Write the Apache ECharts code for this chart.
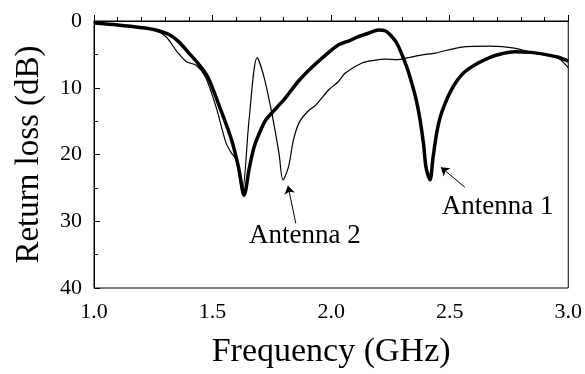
<!DOCTYPE html>
<html>
<head>
<meta charset="utf-8">
<script src="https://cdn.jsdelivr.net/npm/echarts@6/dist/echarts.min.js"></script>
<style>
  html, body { margin: 0; padding: 0; background: #fff; }
  #chart { width: 585px; height: 374px; }
</style>
</head>
<body>
<div id="chart"></div>
<script>
// frequency (GHz) / return loss (dB)
const ant1Freq = [1.0, 1.1, 1.2, 1.26, 1.32, 1.36, 1.40, 1.44, 1.48, 1.53, 1.58, 1.61, 1.633, 1.655, 1.675, 1.70, 1.725, 1.77, 1.81, 1.86, 1.92, 1.98, 2.03, 2.08, 2.115, 2.16, 2.2, 2.23, 2.25, 2.275, 2.296, 2.32, 2.34, 2.36, 2.375, 2.39, 2.40, 2.417, 2.43, 2.445, 2.46, 2.48, 2.50, 2.53, 2.564, 2.62, 2.673, 2.72, 2.773, 2.84, 2.90, 2.954, 3.0];
const ant1Loss = [0.3, 0.6, 1.0, 1.35, 2.1, 3.2, 4.8, 6.4, 8.4, 12.9, 17.8, 22.0, 26.1, 22.0, 18.9, 16.6, 14.8, 13.0, 11.4, 9.1, 6.9, 5.0, 3.6, 2.9, 2.35, 1.8, 1.35, 1.5, 2.1, 3.2, 4.8, 7.0, 9.3, 12.0, 14.8, 18.5, 21.9, 23.8, 20.4, 16.8, 14.4, 12.4, 10.8, 9.0, 7.6, 6.3, 5.4, 4.9, 4.6, 4.7, 5.0, 5.4, 6.0];

const ant2Freq = [1.0, 1.1, 1.2, 1.26, 1.305, 1.35, 1.39, 1.43, 1.47, 1.515, 1.557, 1.58, 1.60, 1.625, 1.654, 1.688, 1.717, 1.75, 1.78, 1.797, 1.82, 1.84, 1.864, 1.90, 1.935, 1.99, 2.03, 2.06, 2.13, 2.18, 2.23, 2.28, 2.325, 2.38, 2.44, 2.55, 2.673, 2.773, 2.857, 2.954, 3.0];
const ant2Loss = [0.3, 0.6, 1.0, 1.4, 2.4, 4.6, 6.1, 6.6, 8.4, 12.9, 18.3, 19.8, 20.8, 25.6, 14.8, 5.5, 8.4, 13.8, 19.8, 23.8, 21.9, 18.0, 15.3, 13.6, 12.6, 10.3, 9.1, 7.8, 6.3, 5.9, 5.7, 5.8, 5.5, 5.1, 4.8, 3.9, 3.75, 4.05, 4.8, 5.5, 7.0];

const xTicks = [1.0, 1.5, 2.0, 2.5, 3.0];
const yTicks = [0, 10, 20, 30, 40];

const zip = (a, b) => a.map((v, i) => [v, b[i]]);

const chart = echarts.init(document.getElementById('chart'));
const font = 'Liberation Serif';

const option = {
  animation: false,
  grid: { left: 94, right: 14, top: 21, bottom: 86, show: true, borderColor: '#000', borderWidth: 1 },
  xAxis: {
    type: 'value', min: 1.0, max: 3.0, interval: 0.5,
    name: 'Frequency (GHz)', nameLocation: 'middle', nameGap: 47,
    nameTextStyle: { fontFamily: font, fontSize: 34, color: '#000' },
    axisLine: { lineStyle: { color: '#000' } },
    axisTick: { inside: true, length: 6, lineStyle: { color: '#000' } },
    minorTick: { show: true, splitNumber: 5, length: 4, lineStyle: { color: '#000' } },
    splitLine: { show: false },
    axisLabel: { fontFamily: font, fontSize: 22, color: '#000', margin: 13,
      formatter: v => xTicks.includes(v) ? v.toFixed(1) : '' }
  },
  yAxis: {
    type: 'value', min: 0, max: 40, interval: 10, inverse: true,
    name: 'Return loss (dB)', nameLocation: 'middle', nameGap: 48,
    nameTextStyle: { fontFamily: font, fontSize: 33, color: '#000' },
    axisLine: { lineStyle: { color: '#000' } },
    axisTick: { inside: true, length: 6, lineStyle: { color: '#000' } },
    minorTick: { show: true, splitNumber: 2, length: 4, lineStyle: { color: '#000' } },
    splitLine: { show: false },
    axisLabel: { fontFamily: font, fontSize: 22, color: '#000', margin: 12,
      formatter: v => yTicks.includes(v) ? String(v) : '' }
  },
  series: [
    {
      name: 'Antenna 1', type: 'line', smooth: 0.3, symbol: 'none',
      lineStyle: { color: '#000', width: 3.5 },
      data: zip(ant1Freq, ant1Loss),
      markLine: {
        silent: true, symbol: ['none', 'arrow'], symbolSize: 8,
        lineStyle: { color: '#000', width: 1, type: 'solid' }, label: { show: false },
        data: [[{ coord: [2.564, 24.9] }, { coord: [2.463, 21.9] }]]
      },
      markPoint: {
        symbol: 'circle', symbolSize: 0,
        label: { show: true, formatter: 'Antenna 1', fontFamily: font, fontSize: 27, color: '#000' },
        data: [{ coord: [2.702, 27.9] }]
      }
    },
    {
      name: 'Antenna 2', type: 'line', smooth: 0.3, symbol: 'none',
      lineStyle: { color: '#000', width: 1.2 },
      data: zip(ant2Freq, ant2Loss),
      markLine: {
        silent: true, symbol: ['none', 'arrow'], symbolSize: 8,
        lineStyle: { color: '#000', width: 1, type: 'solid' }, label: { show: false },
        data: [[{ coord: [1.851, 30.3] }, { coord: [1.818, 24.7] }]]
      },
      markPoint: {
        symbol: 'circle', symbolSize: 0,
        label: { show: true, formatter: 'Antenna 2', fontFamily: font, fontSize: 27, color: '#000' },
        data: [{ coord: [1.889, 32.2] }]
      }
    }
  ]
};

chart.setOption(option);
</script>
</body>
</html>
